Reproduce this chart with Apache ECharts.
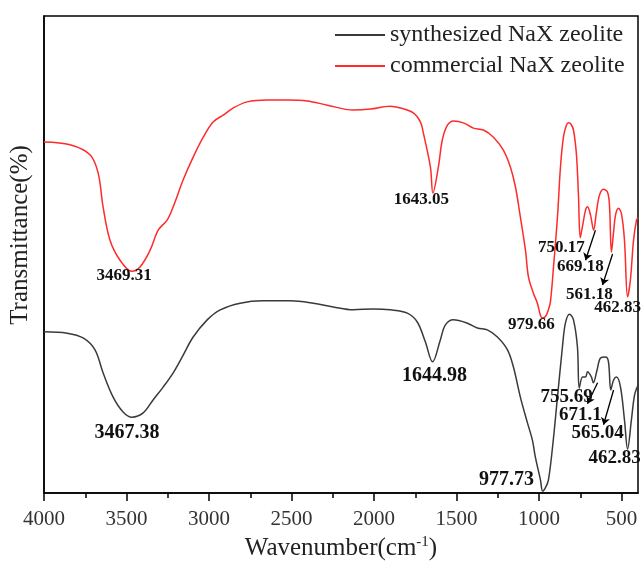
<!DOCTYPE html>
<html>
<head>
<meta charset="utf-8">
<script src="https://cdn.jsdelivr.net/npm/echarts@6/dist/echarts.min.js"></script>
<style>html,body{margin:0;padding:0;background:#fff}#c{width:641px;height:561px}</style>
</head>
<body>
<div id="c"></div>
<script>
// ---- data ----
var seriesNames = ['synthesized NaX zeolite', 'commercial NaX zeolite'];
var majorTicks = [4000, 3500, 3000, 2500, 2000, 1500, 1000, 500];
var minorTicks = [3750, 3250, 2750, 2250, 1750, 1250, 750];

var redWavenumber = [4000,3842,3721,3672,3642,3600,3539,3469,3418,3357,3308,3254,3217,3157,3096,3035,2975,2914,2854,2769,2647,2526,2405,2283,2126,2022,1901,1840,1762,1719,1701,1658,1643,1610,1586,1555,1519,1458,1398,1337,1276,1216,1173,1143,1113,1082,1064,1034,1010,991,980,961,943,931,912,888,870,852,835,821,806,791,773,761,750,736,718,706,688,669,652,633,609,585,573,561,548,536,518,500,482,463,446,427,409,400];
var redT = [73.6,73.0,70.9,67.1,60.0,53.0,48.8,46.5,47.4,50.9,55.1,57.2,60.0,65.6,70.4,74.6,77.8,79.2,80.7,82.0,82.4,82.4,82.2,81.3,80.3,80.5,81.1,80.7,79.7,77.8,75.5,68.3,62.9,68.3,74.0,77.1,78.0,77.6,76.5,76.1,74.6,71.9,68.3,64.2,57.9,50.9,45.3,41.9,39.8,37.2,36.7,37.0,38.4,40.0,47.4,57.9,68.3,74.6,77.0,77.6,77.3,76.1,70.9,62.5,53.5,56.0,59.3,60.0,58.3,55.1,58.9,62.5,63.7,63.1,60.4,50.5,54.7,58.3,59.7,58.5,53.0,41.1,44.7,53.0,57.2,57.7];

var blackWavenumber = [4000,3860,3763,3691,3642,3581,3521,3467,3399,3339,3278,3217,3163,3096,3011,2932,2811,2672,2508,2368,2247,2126,2004,1901,1798,1737,1689,1645,1598,1568,1519,1434,1373,1313,1252,1191,1155,1113,1070,1040,1022,991,978,960,943,918,888,858,840,815,791,767,756,736,718,706,682,671,648,627,597,579,565,548,530,506,482,463,440,421,403,400];
var blackT = [33.8,33.5,32.5,30.0,25.2,20.1,17.0,15.9,16.8,19.5,22.2,25.2,28.5,32.7,36.3,38.4,39.8,40.3,40.3,39.8,39.0,38.4,38.6,38.4,37.7,35.8,31.7,27.5,32.1,35.2,36.3,35.6,34.6,34.2,32.7,30.0,26.4,20.1,14.7,11.1,7.5,2.7,0.4,1.2,2.7,9.6,20.1,30.6,35.6,37.5,36.3,30.6,22.0,24.3,24.3,25.4,24.3,23.1,25.8,28.3,28.5,27.5,21.6,23.7,24.3,22.2,15.3,9.2,15.3,20.5,22.4,22.6];

// peak annotations: text, anchor wavenumber, anchor transmittance
var redLabelText = ['3469.31','1643.05','979.66','750.17','669.18','561.18','462.83'];
var redLabelW    = [3515, 1713, 1046, 864, 749, 694, 524];
var redLabelT    = [45.5, 61.6, 35.2, 51.4, 47.4, 41.5, 38.8];
var blackLabelText = ['3467.38','1644.98','977.73','755.69','671.1','565.04','462.83'];
var blackLabelW    = [3497, 1634, 1197, 833, 749, 645, 542];
var blackLabelT    = [12.6, 24.5, 2.7, 20.1, 16.4, 12.6, 7.3];
var blackLabelSize = [20, 20, 20, 19, 19, 19, 19];

// arrows: [fromW, fromT, toW, toT]
var redArrows = [[658, 55.1, 718, 48.8], [554, 50.1, 615, 43.6]];
var blackArrows = [[645, 23.1, 706, 18.7], [548, 21.6, 609, 14.3]];

// ---- build ----
function zip(a, b) { return a.map(function (v, i) { return [v, b[i]]; }); }
var FONT = 'Liberation Serif';
function labelPoints(texts, ws, ts, sizes, defSize) {
  return texts.map(function (t, i) {
    return {
      coord: [ws[i], ts[i]], value: t,
      label: { show: true, position: 'inside', formatter: t, fontFamily: FONT, fontWeight: 'bold',
               fontSize: sizes ? sizes[i] : defSize, color: '#111' }
    };
  });
}
function arrowLines(arr) {
  return arr.map(function (a) { return [{ coord: [a[0], a[1]] }, { coord: [a[2], a[3]] }]; });
}

var chart = echarts.init(document.getElementById('c'), null, { renderer: 'canvas' });
chart.setOption({
  animation: false,
  grid: { left: 44, right: 3, top: 16, bottom: 68, containLabel: false, outerBoundsMode: 'none',
          show: true, borderColor: '#000', borderWidth: 1.5, backgroundColor: 'transparent' },
  legend: {
    orient: 'vertical', left: 330, top: 18, itemWidth: 50, itemHeight: 2, icon: 'rect', itemGap: 7,
    data: seriesNames,
    textStyle: { fontFamily: FONT, fontSize: 24, color: '#222' }
  },
  xAxis: [{
    type: 'value', inverse: true, min: 400, max: 4000,
    axisLine: { show: true, lineStyle: { color: '#000', width: 1.5 } },
    axisTick: { show: true, customValues: majorTicks, length: 8, inside: false, lineStyle: { color: '#000', width: 1.5 } },
    axisLabel: { customValues: majorTicks, margin: 16, fontFamily: FONT, fontSize: 21, color: '#333',
                 formatter: function (v) { return String(v); } },
    splitLine: { show: false },
    name: 'Wavenumber(cm{sup|-1})', nameLocation: 'middle', nameGap: 39,
    nameTextStyle: { fontFamily: FONT, fontSize: 25, color: '#222',
      rich: { sup: { fontFamily: FONT, fontSize: 15, color: '#222', verticalAlign: 'top', padding: [0, 0, 12, 0] } } }
  }, {
    type: 'value', inverse: true, min: 400, max: 4000, position: 'bottom',
    axisLine: { show: false },
    axisTick: { show: true, customValues: minorTicks, length: 5, lineStyle: { color: '#000', width: 1.5 } },
    axisLabel: { show: false }, splitLine: { show: false }
  }],
  yAxis: {
    type: 'value', min: 0, max: 100,
    axisLine: { show: true, lineStyle: { color: '#000', width: 1.5 } },
    axisTick: { show: false }, axisLabel: { show: false }, splitLine: { show: false },
    name: 'Transmittance(%)', nameLocation: 'middle', nameGap: 11,
    nameTextStyle: { fontFamily: FONT, fontSize: 25, color: '#222', padding: [0, 0, 0, 39] }
  },
  series: [{
    name: seriesNames[0], type: 'line', color: '#3a3a3a', symbol: 'none', smooth: 0.35,
    lineStyle: { color: '#3a3a3a', width: 1.5 },
    data: zip(blackWavenumber, blackT),
    markPoint: { symbol: 'circle', symbolSize: 0, silent: true,
      data: labelPoints(blackLabelText, blackLabelW, blackLabelT, blackLabelSize) },
    markLine: { silent: true, symbol: ['none', 'arrow'], symbolSize: 7, label: { show: false },
      lineStyle: { color: '#000', width: 1.3, type: 'solid' }, data: arrowLines(blackArrows) }
  }, {
    name: seriesNames[1], type: 'line', color: '#ff2a2a', symbol: 'none', smooth: 0.35,
    lineStyle: { color: '#ff2a2a', width: 1.5 },
    data: zip(redWavenumber, redT),
    markPoint: { symbol: 'circle', symbolSize: 0, silent: true,
      data: labelPoints(redLabelText, redLabelW, redLabelT, null, 17) },
    markLine: { silent: true, symbol: ['none', 'arrow'], symbolSize: 7, label: { show: false },
      lineStyle: { color: '#000', width: 1.3, type: 'solid' }, data: arrowLines(redArrows) }
  }]
});
</script>
</body>
</html>
